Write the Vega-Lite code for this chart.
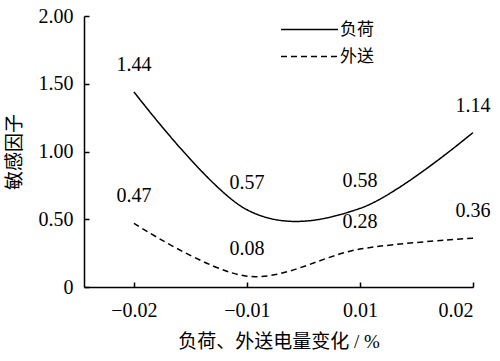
{
  "$schema": "https://vega.github.io/schema/vega-lite/v6.json",
  "width": 389,
  "height": 271,
  "autosize": "none",
  "padding": {"left": 84, "top": 16, "right": 27, "bottom": 74},
  "background": "white",
  "config": {"view": {"stroke": null}, "font": "Liberation Serif"},
  "data": {
    "values": [
      {"s": "负荷", "i": 1, "x": "−0.02", "v": 1.44},
      {"s": "负荷", "i": 2, "x": "−0.01", "v": 0.57},
      {"s": "负荷", "i": 3, "x": "0.01", "v": 0.58},
      {"s": "负荷", "i": 4, "x": "0.02", "v": 1.14},
      {"s": "外送", "i": 1, "x": "−0.02", "v": 0.47},
      {"s": "外送", "i": 2, "x": "−0.01", "v": 0.08},
      {"s": "外送", "i": 3, "x": "0.01", "v": 0.28},
      {"s": "外送", "i": 4, "x": "0.02", "v": 0.36}
    ]
  },
  "encoding": {
    "x": {
      "field": "i",
      "type": "quantitative",
      "scale": {"domain": [0.558, 4], "nice": false, "zero": false},
      "axis": {
        "values": [1, 2, 3, 4],
        "labelExpr": "['', '−0.02', '−0.01', '0.01', '0.02'][datum.value]",
        "grid": false,
        "domainColor": "black",
        "domainWidth": 1.5,
        "tickColor": "black",
        "tickWidth": 1.5,
        "tickSize": -5,
        "labelPadding": 18,
        "labelFont": "Liberation Serif",
        "labelFontSize": 20,
        "labelColor": "black",
        "title": "负荷、外送电量变化 / %",
        "titleFont": "'Liberation Serif', 'Noto Sans CJK SC', serif",
        "titleFontSize": 19,
        "titleFontWeight": "normal",
        "titleColor": "black",
        "titlePadding": 12
      }
    },
    "y": {
      "field": "v",
      "type": "quantitative",
      "scale": {"domain": [0, 2], "nice": false},
      "axis": {
        "values": [0, 0.5, 1, 1.5, 2],
        "labelExpr": "datum.value == 0 ? '0' : format(datum.value, '.2f')",
        "grid": false,
        "domainColor": "black",
        "domainWidth": 1.5,
        "tickColor": "black",
        "tickWidth": 1.5,
        "tickSize": -5,
        "labelPadding": 16,
        "labelFont": "Liberation Serif",
        "labelFontSize": 20,
        "labelColor": "black",
        "title": "敏感因子",
        "titleFont": "Noto Sans CJK SC",
        "titleFontSize": 19,
        "titleFontWeight": "normal",
        "titleColor": "black",
        "titlePadding": 14
      }
    }
  },
  "layer": [
    {
      "mark": {"type": "line", "interpolate": "cardinal", "strokeWidth": 1.5, "color": "black"},
      "encoding": {
        "strokeDash": {
          "field": "s",
          "type": "nominal",
          "scale": {"domain": ["负荷", "外送"], "range": [[1, 0], [6, 4]]},
          "legend": {
            "title": null,
            "orient": "none",
            "legendX": 196,
            "legendY": 0,
            "padding": 0,
            "symbolType": "stroke",
            "symbolSize": 3249,
            "symbolStrokeWidth": 1.5,
            "symbolStrokeColor": "black",
            "labelFont": "Noto Sans CJK SC",
            "labelFontSize": 17,
            "labelColor": "black",
            "labelOffset": 1,
            "rowPadding": 0,
            "clipHeight": 27
          }
        }
      }
    },
    {
      "mark": {"type": "text", "dy": -27, "fontSize": 20, "font": "Liberation Serif", "color": "black"},
      "encoding": {"text": {"field": "v", "type": "quantitative", "format": ".2f"}}
    }
  ]
}
